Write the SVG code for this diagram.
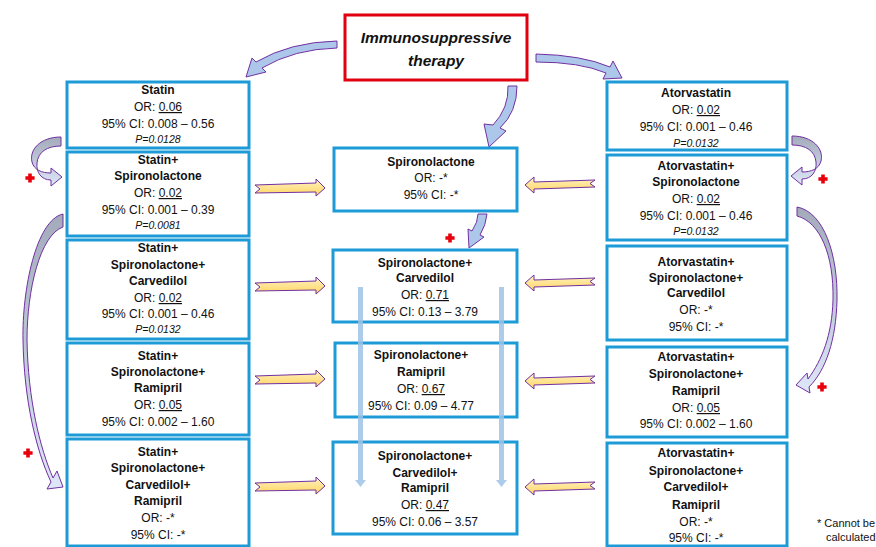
<svg xmlns="http://www.w3.org/2000/svg" xmlns:xlink="http://www.w3.org/1999/xlink" width="876" height="547" viewBox="0 0 876 547">
<style>
.box{fill:#fff;stroke:#1d9bd7;stroke-width:3}
.red{fill:#fff;stroke:#e0000f;stroke-width:3}
.t{font-family:"Liberation Sans",Arial,sans-serif;font-size:12px;fill:#111;text-anchor:middle}
.b{font-weight:bold}
.p{font-style:italic;font-size:10.5px}
.u{text-decoration:underline}
.ttl{font-family:"Liberation Sans",Arial,sans-serif;font-size:15.5px;font-weight:bold;font-style:italic;fill:#111;text-anchor:middle}
.fn{font-family:"Liberation Sans",Arial,sans-serif;font-size:11px;fill:#111}
.blk{stroke:#7030a0;stroke-width:1;stroke-linejoin:round}
.bl{fill:#adc7ea}
.yl{fill:url(#gy)}
.va{fill:#9dc3e6;opacity:0.85}
.plus{fill:#e8000b}
</style>
<defs>
<linearGradient id="gy" x1="0" y1="0" x2="0" y2="1">
<stop offset="0" stop-color="#fff2c4"/>
<stop offset="1" stop-color="#ffd55e"/>
</linearGradient>
<linearGradient id="gc" x1="0" y1="0" x2="0" y2="1">
<stop offset="0" stop-color="#a3abbb"/>
<stop offset="1" stop-color="#dde7f7"/>
</linearGradient>
<path id="yr" d="M -70 -3 L -9 -5 L -9 -9 L 0 0 L -9 8 L -9 4 L -70 5 L -65 1 Z"/>
<path id="yl" d="M 70 -5 L 9 -3 L 9 -8 L 0 0 L 9 8 L 9 4 L 70 2 L 65 -1.5 Z"/>
<path id="plusp" d="M -1.8 -4.6 h 3.6 v 2.8 h 2.8 v 3.6 h -2.8 v 2.8 h -3.6 v -2.8 h -2.8 v -3.6 h 2.8 Z"/>
</defs>

<g id="connectors">
<!-- from immunosuppressive therapy -->
<path class="bl blk" d="M 337 41 Q 290 42 256 62 L 252 58 L 246 77 L 266 72 L 262 68 Q 294 49 337 48 Z"/>
<path class="bl blk" d="M 536 54 Q 582 55 610 67 L 613 61 L 622 78 L 603 79 L 606 73 Q 580 62 536 62 Z"/>
<path class="bl blk" d="M 517 86 Q 517 112 500 128 L 506 131 L 489 147 L 484 124 L 493 125 Q 509 108 508 86 Z"/>
<!-- spironolactone to spironolactone+carvedilol -->
<path class="bl blk" d="M 487 214 Q 486 225 480 235 L 484 237 L 469 248 L 468 229 L 472 231 Q 478 222 478 214 Z"/>
<!-- left curved -->
<path class="blk" fill="url(#gc)" d="M 61 137 C 40 137 29 150 32 162 C 34 170 42 173 51 173 L 51 168 L 62 177 L 51 186 L 51 180 C 41 180 36 172 37 163 C 38 152 47 146 61 146 Z"/>
<path class="blk" fill="url(#gc)" d="M 63 214 C 36 220 22 290 23 340 C 24 400 36 450 51 482 L 47 489 L 63 487 L 57 471 L 53 478 C 40 448 28 400 27 340 C 27 290 40 235 63 227 Z"/>
<!-- right curved -->
<path class="blk" fill="url(#gc)" transform="translate(853,-1) scale(-1,1)" d="M 61 137 C 40 137 29 150 32 162 C 34 170 42 173 51 173 L 51 168 L 62 177 L 51 186 L 51 180 C 41 180 36 172 37 163 C 38 152 47 146 61 146 Z"/>
<path class="blk" fill="url(#gc)" d="M 797 207 C 824 212 838 255 837 300 C 836 340 826 370 809 387 L 810 393 L 796 385 L 807 373 L 808 379 C 822 360 832 335 833 300 C 834 255 820 222 797 216 Z"/>
<!-- yellow horizontal arrows -->
<use xlink:href="#yr" class="yl blk" transform="translate(325,188)"/>
<use xlink:href="#yr" class="yl blk" transform="translate(325,286)"/>
<use xlink:href="#yr" class="yl blk" transform="translate(325,379)"/>
<use xlink:href="#yr" class="yl blk" transform="translate(325,486)"/>
<use xlink:href="#yl" class="yl blk" transform="translate(525,185)"/>
<use xlink:href="#yl" class="yl blk" transform="translate(525,283)"/>
<use xlink:href="#yl" class="yl blk" transform="translate(525,381)"/>
<use xlink:href="#yl" class="yl blk" transform="translate(525,487)"/>
</g>

<g id="therapy">
<rect class="red" x="345" y="15" width="182" height="65"/>
<text class="ttl" x="436" y="43">Immunosuppressive</text>
<text class="ttl" x="436" y="66">therapy</text>
</g>

<g id="statin">
<rect class="box" x="67" y="82" width="182" height="66"/>
<text class="t b" x="158" y="94">Statin</text>
<text class="t" x="158" y="111">OR: <tspan class="u">0.06</tspan></text>
<text class="t" x="158" y="128">95% CI: 0.008 – 0.56</text>
<text class="t p" x="158" y="143">P=0.0128</text>
</g>
<g id="statin-spiro">
<rect class="box" x="67" y="152" width="182" height="84"/>
<text class="t b" x="158" y="164">Statin+</text>
<text class="t b" x="158" y="180">Spironolactone</text>
<text class="t" x="158" y="197">OR: <tspan class="u">0.02</tspan></text>
<text class="t" x="158" y="214">95% CI: 0.001 – 0.39</text>
<text class="t p" x="158" y="229">P=0.0081</text>
</g>
<g id="statin-spiro-carv">
<rect class="box" x="67" y="240" width="182" height="99"/>
<text class="t b" x="158" y="252">Statin+</text>
<text class="t b" x="158" y="269">Spironolactone+</text>
<text class="t b" x="158" y="285">Carvedilol</text>
<text class="t" x="158" y="302">OR: <tspan class="u">0.02</tspan></text>
<text class="t" x="158" y="318">95% CI: 0.001 – 0.46</text>
<text class="t p" x="158" y="333">P=0.0132</text>
</g>
<g id="statin-spiro-ram">
<rect class="box" x="67" y="343" width="182" height="92"/>
<text class="t b" x="158" y="360">Statin+</text>
<text class="t b" x="158" y="376">Spironolactone+</text>
<text class="t b" x="158" y="392">Ramipril</text>
<text class="t" x="158" y="409">OR: <tspan class="u">0.05</tspan></text>
<text class="t" x="158" y="426">95% CI: 0.002 – 1.60</text>
</g>
<g id="statin-spiro-carv-ram">
<rect class="box" x="67" y="439" width="182" height="107"/>
<text class="t b" x="158" y="456">Statin+</text>
<text class="t b" x="158" y="472">Spironolactone+</text>
<text class="t b" x="158" y="489">Carvedilol+</text>
<text class="t b" x="158" y="505">Ramipril</text>
<text class="t" x="158" y="522">OR: -*</text>
<text class="t" x="158" y="539">95% CI: -*</text>
</g>

<g id="spiro">
<rect class="box" x="334" y="148" width="183" height="63"/>
<text class="t b" x="431" y="166">Spironolactone</text>
<text class="t" x="431" y="182">OR: -*</text>
<text class="t" x="431" y="199">95% CI: -*</text>
</g>
<g id="spiro-carv">
<rect class="box" x="333" y="250" width="184" height="72"/>
<text class="t b" x="425" y="267">Spironolactone+</text>
<text class="t b" x="425" y="282">Carvedilol</text>
<text class="t" x="425" y="299">OR: <tspan class="u">0.71</tspan></text>
<text class="t" x="425" y="316">95% CI: 0.13 – 3.79</text>
</g>
<g id="spiro-ram">
<rect class="box" x="335" y="343" width="182" height="74"/>
<text class="t b" x="421" y="359">Spironolactone+</text>
<text class="t b" x="421" y="376">Ramipril</text>
<text class="t" x="421" y="393">OR: <tspan class="u">0.67</tspan></text>
<text class="t" x="421" y="410">95% CI: 0.09 – 4.77</text>
</g>
<g id="spiro-carv-ram">
<rect class="box" x="333" y="442" width="184" height="92"/>
<text class="t b" x="425" y="460">Spironolactone+</text>
<text class="t b" x="425" y="477">Carvedilol+</text>
<text class="t b" x="425" y="492">Ramipril</text>
<text class="t" x="425" y="509">OR: <tspan class="u">0.47</tspan></text>
<text class="t" x="425" y="526">95% CI: 0.06 – 3.57</text>
</g>

<g id="atorva">
<rect class="box" x="607" y="82" width="180" height="68"/>
<text class="t b" x="696" y="97">Atorvastatin</text>
<text class="t" x="696" y="114">OR: <tspan class="u">0.02</tspan></text>
<text class="t" x="696" y="131">95% CI: 0.001 – 0.46</text>
<text class="t p" x="696" y="147">P=0.0132</text>
</g>
<g id="atorva-spiro">
<rect class="box" x="607" y="155" width="180" height="85"/>
<text class="t b" x="696" y="170">Atorvastatin+</text>
<text class="t b" x="696" y="186">Spironolactone</text>
<text class="t" x="696" y="203">OR: <tspan class="u">0.02</tspan></text>
<text class="t" x="696" y="220">95% CI: 0.001 – 0.46</text>
<text class="t p" x="696" y="235">P=0.0132</text>
</g>
<g id="atorva-spiro-carv">
<rect class="box" x="607" y="246" width="180" height="94"/>
<text class="t b" x="696" y="266">Atorvastatin+</text>
<text class="t b" x="696" y="282">Spironolactone+</text>
<text class="t b" x="696" y="297">Carvedilol</text>
<text class="t" x="696" y="314">OR: -*</text>
<text class="t" x="696" y="331">95% CI: -*</text>
</g>
<g id="atorva-spiro-ram">
<rect class="box" x="607" y="347" width="180" height="90"/>
<text class="t b" x="696" y="361">Atorvastatin+</text>
<text class="t b" x="696" y="378">Spironolactone+</text>
<text class="t b" x="696" y="395">Ramipril</text>
<text class="t" x="696" y="412">OR: <tspan class="u">0.05</tspan></text>
<text class="t" x="696" y="428">95% CI: 0.002 – 1.60</text>
</g>
<g id="atorva-spiro-carv-ram">
<rect class="box" x="607" y="443" width="180" height="103"/>
<text class="t b" x="696" y="457">Atorvastatin+</text>
<text class="t b" x="696" y="475">Spironolactone+</text>
<text class="t b" x="696" y="491">Carvedilol+</text>
<text class="t b" x="696" y="509">Ramipril</text>
<text class="t" x="696" y="526">OR: -*</text>
<text class="t" x="696" y="542">95% CI: -*</text>
</g>

<g id="trend-arrows">
<path class="va" d="M 358 287 H 363 V 480 H 366 L 360.5 487 L 355 480 H 358 Z"/>
<path class="va" d="M 499 287 H 504 V 480 H 507 L 501.5 487 L 496 480 H 499 Z"/>
</g>

<g id="marks">
<use xlink:href="#plusp" class="plus" x="30" y="178"/>
<use xlink:href="#plusp" class="plus" x="28" y="453"/>
<use xlink:href="#plusp" class="plus" x="823" y="179"/>
<use xlink:href="#plusp" class="plus" x="822" y="387"/>
<use xlink:href="#plusp" class="plus" x="450" y="238"/>
</g>

<g id="footnote">
<text class="fn" x="817" y="527">* Cannot be</text>
<text class="fn" x="826" y="541">calculated</text>
</g>
</svg>
